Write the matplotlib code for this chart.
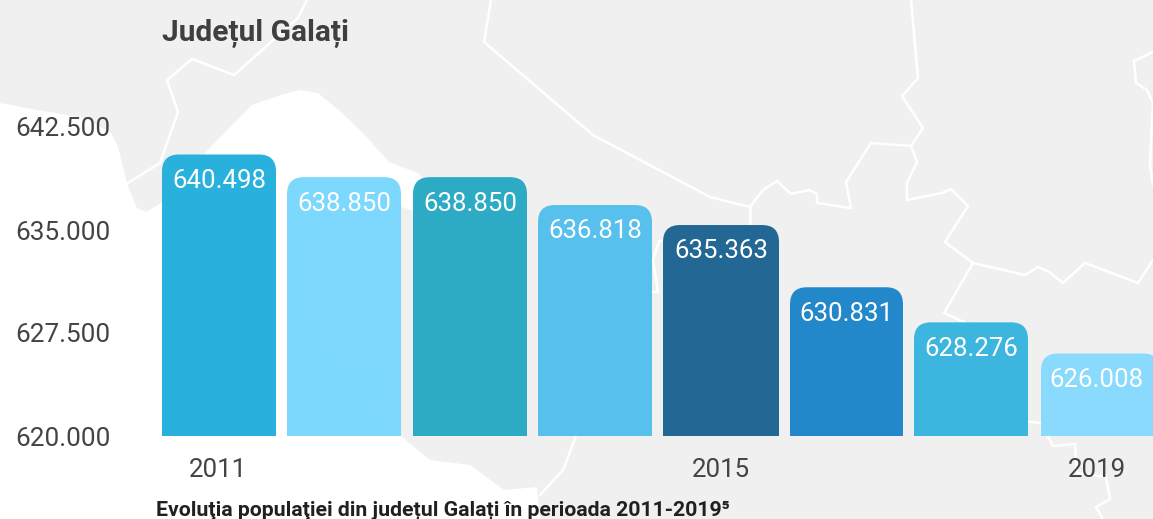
import matplotlib
matplotlib.use("Agg")
from matplotlib import pyplot as plt
from matplotlib.patches import FancyBboxPatch, Polygon

plt.rcParams['font.family'] = ['Roboto', 'DejaVu Sans']

values = [640498, 638850, 638850, 636818, 635363, 630831, 628276, 626008]
value_labels = ['640.498', '638.850', '638.850', '636.818', '635.363', '630.831', '628.276', '626.008']
bar_colors = ['#22afdc', '#79d7fd', '#26a9c4', '#52bfec', '#1c6391', '#1c85c8', '#36b4df', '#86dafd']
y_ticks = [620000, 627500, 635000, 642500]
y_tick_labels = ['620.000', '627.500', '635.000', '642.500']
x_tick_labels = ['2011', '2015', '2019']

# bar layout in pixels, the gaps are not regular in the original
bar_left = [162, 287, 413, 538, 663, 790, 914, 1041]
bar_right = [276, 401, 527, 652, 779, 903, 1028, 1160]
x_tick_pos = [218, 721, 1097]

# background map, traced by eye
white_area = [(0, 103), (37, 110), (85, 118), (111, 133), (118, 147), (128, 187), (137, 208), (146, 212),
              (163, 202), (205, 153), (230, 127), (252, 105), (281, 95), (300, 90), (318, 93), (341, 112),
              (363, 133), (389, 162), (418, 173), (426, 182), (414, 211), (401, 207), (322, 223), (307, 260),
              (322, 343), (344, 360), (392, 373), (392, 390), (374, 410), (401, 436), (430, 460), (470, 465),
              (504, 490), (537, 487), (540, 519), (0, 519)]
borders = [
    [(307, 0), (298, 18), (234, 75), (192, 59), (167, 80), (178, 112), (160, 163), (128, 183)],
    [(491, 0), (484, 42), (593, 135), (710, 197), (750, 207), (763, 190), (777, 181), (791, 194), (809, 190),
     (817, 194), (817, 203), (851, 208), (846, 182), (871, 143), (911, 146), (923, 128), (902, 96), (918, 78),
     (911, 0)],
    [(911, 146), (917, 162), (907, 183), (907, 200), (942, 193), (951, 189), (968, 206), (945, 242), (973, 263),
     (1025, 275), (1038, 267), (1049, 272), (1063, 283), (1085, 263), (1138, 283), (1153, 260)],
    [(973, 263), (944, 313), (964, 322), (999, 370), (1010, 420), (1041, 423), (1053, 446), (1075, 444),
     (1077, 473), (1106, 477), (1110, 499), (1096, 507), (1103, 519)],
    [(1153, 52), (1134, 61), (1136, 83), (1147, 90), (1153, 103), (1150, 165), (1153, 185)],
    [(750, 207), (750, 228)],
    [(663, 241), (659, 241), (653, 260), (658, 292), (610, 293), (593, 320), (617, 333), (623, 385), (582, 402),
     (576, 436), (563, 470), (540, 495)],
]

fig = plt.figure(figsize=(11.53, 5.19), dpi=100)

bg = fig.add_axes([0, 0, 1, 1])
bg.set_xlim(0, 1153)
bg.set_ylim(519, 0)
bg.axis('off')
bg.add_patch(plt.Rectangle((0, 0), 1153, 519, color='#f0f0f0', lw=0))
bg.add_patch(Polygon(white_area, closed=True, color='white', lw=0))
for line in borders:
    bg.plot([p[0] for p in line], [p[1] for p in line], color='white', lw=1.8, solid_joinstyle='miter')

# 103 px per 7500 people, baseline at y=436
ax = fig.add_axes([0, (519 - 436) / 519, 1, 436 / 519])
ax.patch.set_visible(False)
ax.set_xlim(0, 1153)
ax.set_ylim(620000, 620000 + 436 / 103 * 7500)
for s in ax.spines.values():
    s.set_visible(False)

centers = [(a + b) / 2 for a, b in zip(bar_left, bar_right)]
widths = [b - a for a, b in zip(bar_left, bar_right)]
bars = ax.bar(centers, [v - 620000 for v in values], width=widths, bottom=620000, color=bar_colors, alpha=0.97)

# round the top corners by clipping each bar
radius = 17
for bar, left, w in zip(bars, bar_left, widths):
    top = 436 - (bar.get_height()) / 7500 * 103
    clip = FancyBboxPatch((left + radius, top + radius), w - 2 * radius, 400,
                          boxstyle='round,pad=%d,rounding_size=%d' % (radius, radius),
                          transform=bg.transData, lw=0)
    bar.set_clip_path(clip)

for c, v, label in zip(centers, values, value_labels):
    if label == '626.008':
        c = 1096
    ax.annotate(label, (c, v), xytext=(0, -19), textcoords='offset points', ha='center', va='center',
                color='white', fontsize=18.6)

ax.set_yticks(y_ticks)
ax.set_yticklabels(y_tick_labels)
ax.set_xticks(x_tick_pos)
ax.set_xticklabels(x_tick_labels)
ax.tick_params(axis='y', length=0, pad=-79.5, labelsize=18.8, labelcolor='#444444')
ax.tick_params(axis='x', length=0, pad=15.5, labelsize=18.6, labelcolor='#444444')

fig.text(162 / 1153, 1 - 33 / 519, 'Județul Galați', fontsize=21.5, fontweight='bold', color='#3f3f3f', va='center')
fig.text(156 / 1153, 1 - 510 / 519, 'Evoluţia populaţiei din județul Galați în perioada 2011-2019⁵', fontsize=15.3,
         fontweight='bold', color='#231f20', va='center')

fig.savefig("out.png", dpi=100)
